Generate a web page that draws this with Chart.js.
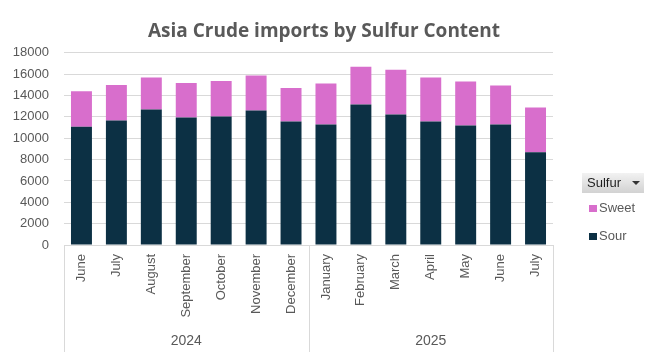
<!DOCTYPE html>
<html><head><meta charset="utf-8">
<script src="https://cdn.jsdelivr.net/npm/chart.js@4.4.1/dist/chart.umd.min.js"></script>
<style>
html,body{margin:0;padding:0;background:#fff;}
#wrap{position:relative;width:648px;height:363px;overflow:hidden;}
#legend{position:absolute;left:582px;top:173px;font-family:"Liberation Sans",Arial,sans-serif;font-size:13px;color:#595959;}
#legend .btn{width:62px;height:20px;box-sizing:border-box;background:linear-gradient(#f2f2f2,#d2d2d2);color:#1e1e1e;padding-left:5px;line-height:20px;position:relative;}
#legend .btn .tri{position:absolute;left:50px;top:8px;width:0;height:0;border-left:4px solid transparent;border-right:4px solid transparent;border-top:4px solid #333;}
#legend .item{position:relative;height:28px;line-height:30px;padding-left:17px;}
#legend .item .sw{position:absolute;left:7px;top:12px;width:8px;height:7px;}
</style></head><body>
<div id="wrap"><canvas id="c" width="648" height="363"></canvas><div id="legend"></div></div>
<script>
const months = ['June','July','August','September','October','November','December','January','February','March','April','May','June','July'];
const years = ['2024','2025'];
const yearCounts = [7, 7];
const sour = [11080, 11650, 12700, 11940, 12030, 12600, 11560, 11280, 13160, 12220, 11560, 11190, 11280, 8690];
const sweet = [3330, 3330, 2980, 3230, 3330, 3270, 3140, 3850, 3530, 4190, 4130, 4120, 3660, 4180];
const yMax = 18000;
const yStep = 2000;
const legendTitle = 'Sulfur';

const SOUR_COLOR = '#0c3044';
const SWEET_COLOR = '#d86ecc';
const GRID = '#d9d9d9';
const TXT = '#595959';
const FONT = '"Liberation Sans", Arial, sans-serif';

const groupLines = {
  id: 'groupLines',
  afterDraw(chart) {
    const x = chart.scales.x, x2 = chart.scales.x2, ctx = chart.ctx;
    const bounds = [x.left];
    let acc = 0;
    yearCounts.forEach((cnt, i) => {
      acc += cnt;
      if (i < yearCounts.length - 1) bounds.push((x.getPixelForValue(acc - 1) + x.getPixelForValue(acc)) / 2);
    });
    bounds.push(x.right);
    ctx.save();
    ctx.strokeStyle = GRID;
    ctx.lineWidth = 1;
    ctx.beginPath();
    bounds.forEach(b => {
      const px = Math.round(b) + 0.5;
      ctx.moveTo(px, x.top);
      ctx.lineTo(px, x2.bottom - 11);
    });
    ctx.stroke();
    ctx.restore();
  }
};

const chart = new Chart(document.getElementById('c'), {
  type: 'bar',
  data: {
    labels: months,
    datasets: [
      { label: 'Sour', data: sour, backgroundColor: SOUR_COLOR, barPercentage: 0.6, categoryPercentage: 1 },
      { label: 'Sweet', data: sweet, backgroundColor: SWEET_COLOR, barPercentage: 0.6, categoryPercentage: 1 }
    ]
  },
  options: {
    responsive: false,
    animation: false,
    layout: { padding: 0 },
    plugins: {
      legend: { display: false },
      tooltip: { enabled: false },
      title: {
        display: true,
        text: 'Asia Crude imports by Sulfur Content',
        color: TXT,
        font: { family: '"Open Sans", sans-serif', size: 19, weight: 'bold' },
        padding: { top: 20.5, bottom: 9.5 }
      }
    },
    scales: {
      x: {
        stacked: true,
        grid: { display: false, drawTicks: false },
        border: { display: true, color: GRID },
        ticks: { autoSkip: false, maxRotation: 90, minRotation: 90, padding: 9, color: TXT, font: { family: FONT, size: 13 } },
        afterFit(s) { s.height = 83; }
      },
      x2: {
        type: 'category',
        labels: years,
        position: 'bottom',
        grid: { display: false, drawTicks: false },
        border: { display: false },
        ticks: { padding: 5, color: TXT, font: { family: '"Liberation Sans Narrow", "Liberation Sans", sans-serif', size: 14 } },
        afterFit(s) { s.height = 35; }
      },
      y: {
        stacked: true,
        min: 0,
        max: yMax,
        grid: { color: GRID, drawTicks: false },
        border: { display: false },
        ticks: { stepSize: yStep, padding: 15, color: TXT, font: { family: FONT, size: 13 }, format: { useGrouping: false } },
        afterFit(s) { s.width = 64; }
      },
      legendSpace: {
        type: 'linear',
        axis: 'y',
        position: 'right',
        display: true,
        grid: { display: false, drawTicks: false },
        border: { display: false },
        ticks: { display: false },
        afterFit(s) { s.width = 95; }
      }
    }
  },
  plugins: [groupLines]
});

// HTML legend built from the chart's datasets
const lg = document.getElementById('legend');
const btn = document.createElement('div');
btn.className = 'btn';
btn.textContent = legendTitle;
const tri = document.createElement('span');
tri.className = 'tri';
btn.appendChild(tri);
lg.appendChild(btn);
chart.data.datasets.slice().reverse().forEach(ds => {
  const it = document.createElement('div');
  it.className = 'item';
  const sw = document.createElement('span');
  sw.className = 'sw';
  sw.style.background = ds.backgroundColor;
  it.appendChild(sw);
  it.appendChild(document.createTextNode(ds.label));
  lg.appendChild(it);
});
</script>
</body></html>
